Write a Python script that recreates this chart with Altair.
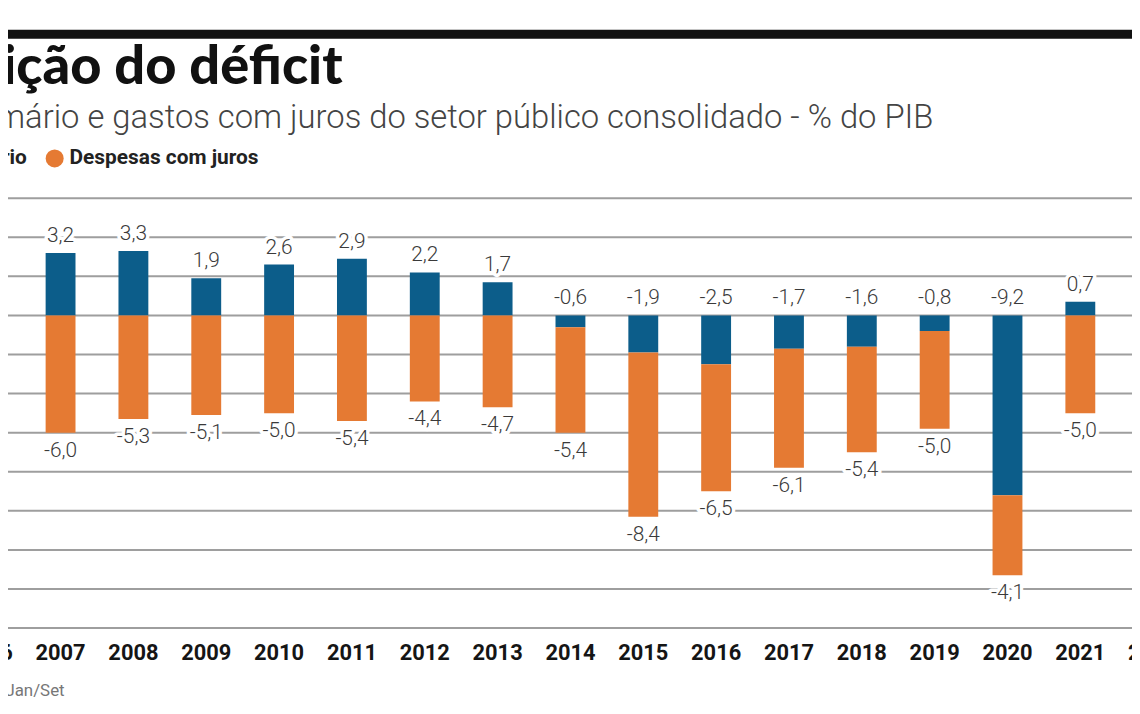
import altair as alt
import pandas as pd

# ---- data ----
years = ["2006", "2007", "2008", "2009", "2010", "2011", "2012", "2013", "2014",
         "2015", "2016", "2017", "2018", "2019", "2020", "2021", "2022"]
primario = [3.2, 3.2, 3.3, 1.9, 2.6, 2.9, 2.2, 1.7, -0.6,
            -1.9, -2.5, -1.7, -1.6, -0.8, -9.2, 0.7, 1.3]
juros = [-6.1, -6.0, -5.3, -5.1, -5.0, -5.4, -4.4, -4.7, -5.4,
         -8.4, -6.5, -6.1, -5.4, -5.0, -4.1, -5.0, -5.8]
grid_values = [-16, -14, -12, -10, -8, -6, -4, -2, 0, 2, 4, 6]
series = ["Resultado primário", "Despesas com juros"]

title_text = "Composição do déficit"
subtitle_text = "Resultado primário e gastos com juros do setor público consolidado - % do PIB"
note_text = "* Jan/Set"

BLUE = "#0c5d8a"
ORANGE = "#e57a33"
W, H = 1132, 706


def fmt(v):
    return f"{v:.1f}".replace(".", ",")


rows = []
for ano, p, j in zip(years, primario, juros):
    rows.append(dict(ano=ano, serie=series[0], y0=0.0, y1=p, label=fmt(p),
                     ly=max(p, 0.0), pos="top"))
    s = min(p, 0.0)
    rows.append(dict(ano=ano, serie=series[1], y0=s, y1=s + j, label=fmt(j),
                     ly=s + j, pos="bottom"))
df = pd.DataFrame(rows)
grid_df = pd.DataFrame({"v": grid_values})
years_df = pd.DataFrame({"ano": years})

xscale = alt.Scale(domain=years, range=[-57.1, 1190.0], paddingInner=0.59, paddingOuter=0.295)
yscale = alt.Scale(domain=[-16, 6], range=[622, 189], nice=False, zero=False)
X = alt.X("ano:N", scale=xscale, axis=None)

grid = alt.Chart(grid_df).mark_rule(color="#9e9e9e", strokeWidth=2).encode(
    y=alt.Y("v:Q", scale=yscale, axis=None),
    x=alt.value(0), x2=alt.value(W),
)

bars = alt.Chart(df).mark_bar().encode(
    x=X,
    y=alt.Y("y0:Q", scale=yscale, axis=None),
    y2="y1:Q",
    color=alt.Color("serie:N", scale=alt.Scale(domain=series, range=[BLUE, ORANGE]), legend=None),
)

lab_font = dict(font="Roboto", fontSize=21, fontWeight=300)


def labels(pos, dy):
    base = alt.Chart(df).transform_filter(alt.datum.pos == pos).encode(
        x=X, y=alt.Y("ly:Q", scale=yscale, axis=None), text="label:N")
    halo = base.mark_text(color="white", stroke="white", strokeWidth=7, strokeJoin="round",
                          dy=dy, baseline="middle", **lab_font)
    txt = base.mark_text(color="#3a3a3a", dy=dy, baseline="middle", **lab_font)
    return halo + txt


top_labels = labels("top", -17)
bottom_labels = labels("bottom", 18)

year_labels = alt.Chart(years_df).mark_text(
    font="Roboto", fontSize=22, fontWeight="bold", color="#151515", baseline="middle"
).encode(x=X, y=alt.value(647), text="ano:N")

one = pd.DataFrame({"k": [0]})

top_rule = alt.Chart(one).mark_rule(color="#111111", strokeWidth=9).encode(
    x=alt.value(0), x2=alt.value(W), y=alt.value(24))

title = alt.Chart(one).mark_text(
    text=title_text, font="Lato", fontSize=54.5, fontWeight=900, color="#111111",
    align="right", baseline="alphabetic").encode(x=alt.value(337), y=alt.value(74))

subtitle = alt.Chart(one).mark_text(
    text=subtitle_text, font="Roboto", fontSize=33, fontWeight=300, color="#444444",
    align="right", baseline="alphabetic").encode(x=alt.value(932), y=alt.value(118))

leg1 = alt.Chart(one).mark_text(
    text=series[0], font="Roboto", fontSize=21, fontWeight="bold", color="#222222",
    align="right", baseline="middle").encode(x=alt.value(19), y=alt.value(149))
leg1_dot = alt.Chart(one).mark_point(filled=True, size=330, color=BLUE, opacity=1).encode(
    x=alt.value(-210), y=alt.value(149))
leg2_dot = alt.Chart(one).mark_point(filled=True, size=330, color=ORANGE, opacity=1).encode(
    x=alt.value(47), y=alt.value(149))
leg2 = alt.Chart(one).mark_text(
    text=series[1], font="Roboto", fontSize=21, fontWeight="bold", color="#222222",
    align="left", baseline="middle").encode(x=alt.value(62), y=alt.value(149))

note = alt.Chart(one).mark_text(
    text=note_text, font="Roboto", fontSize=17, color="#777777",
    align="right", baseline="middle").encode(x=alt.value(57), y=alt.value(685))

chart = alt.layer(
    grid, bars, top_labels, bottom_labels, year_labels, top_rule, title, subtitle,
    leg1, leg1_dot, leg2_dot, leg2, note
).properties(
    width=W, height=H, padding=0,
    autosize=alt.AutoSizeParams(type="none"),
    background="white",
).configure_view(stroke=None)

chart.save("out.html", embed_options={"renderer": "svg", "actions": False})
